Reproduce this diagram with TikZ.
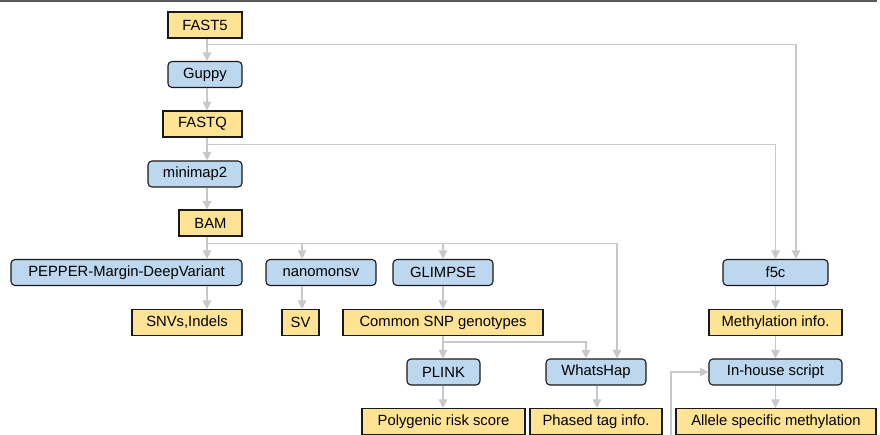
\documentclass[tikz,border=0pt]{standalone}
\usepackage{fontspec}
\setmainfont{Liberation Sans}
\usetikzlibrary{arrows.meta,calc}
\definecolor{jaune}{HTML}{FFE394}
\definecolor{bleu}{HTML}{BDD7EE}
\definecolor{gris}{HTML}{C8C8C8}
\begin{document}
\begin{tikzpicture}[x=1pt,y=-1pt,font=\fontsize{14.8}{17}\selectfont]
		\tikzstyle{donnee}=[minimum height=26pt,inner sep=0pt,draw=black!90,line width=1.1pt,fill=jaune]
		\tikzstyle{outil}=[minimum height=26pt,inner sep=0pt,draw=black!90,line width=1.1pt,fill=bleu,rounded corners=4pt]
		\tikzstyle{fleche}=[draw=gris,line width=1.3pt,-{Triangle[width=8.5pt,length=8.5pt]}]
		\useasboundingbox (0,0) rectangle (880,435);
		\draw[black!65,line width=1.6pt] (0,0.8) -- (877,0.8);
		\coordinate (axe) at (207,0);
		% colonne de gauche
		\node[donnee,minimum width=74pt] (fast5) at (205,25) {FAST5};
		\node[outil,minimum width=74pt] (guppy) at (205,74.5) {Guppy};
		\node[donnee,minimum width=79pt] (fastq) at (202.5,124) {FASTQ};
		\node[outil,minimum width=94pt] (minimap) at (195,174) {minimap2};
		\node[donnee,minimum width=63pt] (bam) at (210.5,223) {BAM};
		\node[outil,minimum width=231pt] (pepper) at (126.5,272.5) {PEPPER-Margin-DeepVariant};
		\node[donnee,minimum width=110pt] (snv) at (187,322.5) {SNVs,Indels};
		\node[outil,minimum width=110pt] (nanomonsv) at (321,272.5) {nanomonsv};
		\node[donnee,minimum width=37pt] (sv) at (300.5,322.5) {SV};
		% milieu
		\node[outil,minimum width=100pt] (glimpse) at (443,272.5) {GLIMPSE};
		\node[donnee,minimum width=200pt] (snp) at (443,322.5) {Common SNP genotypes};
		\node[outil,minimum width=73pt] (plink) at (443.5,372) {PLINK};
		\node[donnee,minimum width=163pt] (prs) at (443.5,421.5) {Polygenic risk score};
		\node[outil,minimum width=100pt] (whatshap) at (596,372) {WhatsHap};
		\node[donnee,minimum width=132pt] (phased) at (596,421.5) {Phased tag info.};
		% droite
		\node[outil,minimum width=105pt] (f5c) at (775.5,272.5) {f5c};
		\node[donnee,minimum width=133pt] (methyl) at (775.5,322.5) {Methylation info.};
		\node[outil,minimum width=133pt] (script) at (775.5,372) {In-house script};
		\node[donnee,minimum width=200pt] (allele) at (776,421.5) {Allele specific methylation};
		\coordinate (entree) at (671,440);
		% fleches
		\draw[fleche] (fast5.south -| axe) -- (guppy.north -| axe);
		\draw[fleche] (guppy.south -| axe) -- (fastq.north -| axe);
		\draw[fleche] (fastq.south -| axe) -- (minimap.north -| axe);
		\draw[fleche] (minimap.south -| axe) -- (bam.north -| axe);
		\draw[fleche] (bam.south -| axe) -- (pepper.north -| axe);
		\draw[fleche] (pepper.south -| axe) -- (snv.north -| axe);
		\draw[fleche] ($(fast5.south -| axe)+(0,6)$) -| ([xshift=20.5pt]f5c.north);
		\draw[fleche] ($(fastq.south -| axe)+(0,7)$) -| (f5c.north);
		\draw[fleche] ($(bam.south -| axe)+(0,7)$) -| ([xshift=21pt]whatshap.north);
		\draw[fleche] ($(bam.south -| axe)+(0,7)$) -| ([xshift=-19pt]nanomonsv.north);
		\draw[fleche] ([xshift=-19pt]nanomonsv.south) -- (sv.north -| {(302,0)});
		\draw[fleche] ($(bam.south -| axe)+(0,7)$) -| (glimpse.north);
		\draw[fleche] (glimpse) -- (snp);
		\draw[fleche] (snp.south) -- ([xshift=-0.5pt]plink.north);
		\draw[fleche] ($(snp.south)+(0,6)$) -| ([xshift=-10pt]whatshap.north);
		\draw[fleche] ([xshift=-0.5pt]plink.south) -- (prs.north -| snp.south);
		\draw[fleche] ([xshift=1pt]whatshap.south) -- ([xshift=1pt]phased.north);
		\draw[fleche] (f5c) -- (methyl);
		\draw[fleche] (methyl) -- (script);
		\draw[fleche] (script.south) -- ([xshift=-0.5pt]allele.north);
		\draw[fleche] (entree) |- (script.west);
	\end{tikzpicture}
\end{document}
